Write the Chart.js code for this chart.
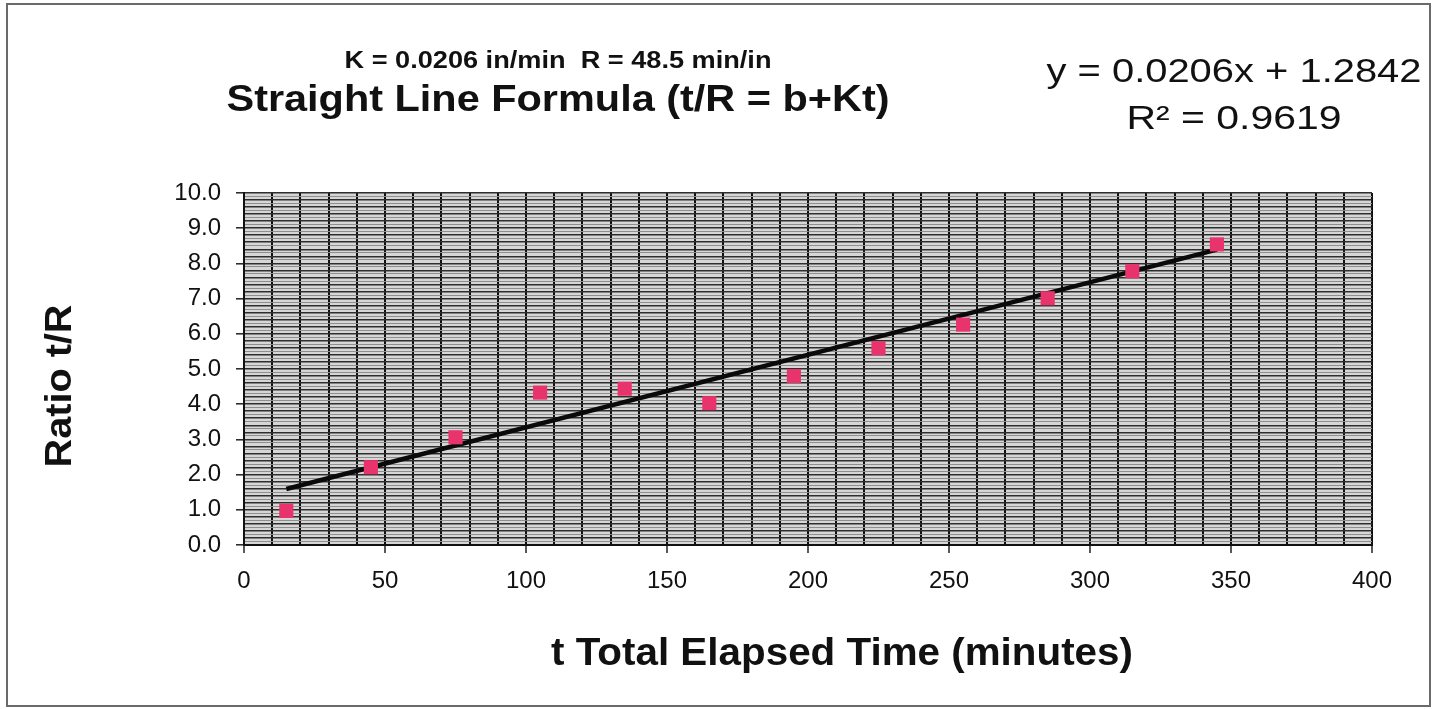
<!DOCTYPE html>
<html>
<head>
<meta charset="utf-8">
<script src="https://cdn.jsdelivr.net/npm/chart.js@4/dist/chart.umd.min.js"></script>
<style>
    html, body { margin: 0; padding: 0; background: #fff; }
    #wrap { width: 1437px; height: 709px; }
</style>
</head>
<body>
<div id="wrap"><canvas id="ratioChart" width="1437" height="709"></canvas></div>
<script>
// t (minutes) and measured t/R ratio
const elapsedTime = [15, 45, 75, 105, 135, 165, 195, 225, 255, 285, 315, 345];
const ratioTR = [0.97, 2.21, 3.06, 4.33, 4.44, 4.03, 4.80, 5.59, 6.26, 7.01, 7.78, 8.54];

// linear trendline end points (y = 0.0206x + 1.2842)
const trendTime = [15, 345];
const trendRatio = [1.59, 8.39];

const titleLines = ['K = 0.0206 in/min  R = 48.5 min/in', 'Straight Line Formula (t/R = b+Kt)'];
const equationLines = ['y = 0.0206x + 1.2842', 'R\u00B2 = 0.9619'];
const xTitle = 't Total Elapsed Time (minutes)';
const yTitle = 'Ratio t/R';

const FONT = "'Liberation Sans', Arial, sans-serif";

function isWhole(v, step) {
    const r = v / step;
    return Math.abs(r - Math.round(r)) < 1e-6;
}

// draw text centred at (cx, cy), stretched/squeezed to given width
function fitText(ctx, text, cx, cy, font, width, angle) {
    ctx.save();
    ctx.font = font;
    const w = ctx.measureText(text).width;
    ctx.translate(cx, cy);
    if (angle) ctx.rotate(angle);
    ctx.scale(width / w, 1);
    ctx.textAlign = 'center';
    ctx.textBaseline = 'middle';
    ctx.fillStyle = '#111';
    ctx.fillText(text, 0, 0);
    ctx.restore();
}

const decorPlugin = {
    id: 'decor',
    beforeDraw(chart) {
        const ctx = chart.ctx;
        const a = chart.chartArea;
        ctx.save();
        ctx.fillStyle = '#fff';
        ctx.fillRect(0, 0, chart.width, chart.height);
        ctx.strokeStyle = '#6a6a6a';
        ctx.lineWidth = 2;
        ctx.strokeRect(7, 4, 1423, 702);
        ctx.fillStyle = '#d6d6d6';
        ctx.fillRect(a.left, a.top, a.right - a.left, a.bottom - a.top);
        ctx.restore();
    },
    afterDraw(chart) {
        const ctx = chart.ctx;
        fitText(ctx, titleLines[0], 558, 62, 'bold 23px ' + FONT, 427);
        fitText(ctx, titleLines[1], 558, 101, 'bold 37px ' + FONT, 663);
        fitText(ctx, equationLines[0], 1234, 73, '33px ' + FONT, 375);
        fitText(ctx, equationLines[1], 1234, 120, '33px ' + FONT, 215);
        fitText(ctx, yTitle, 61, 386, 'bold 36px ' + FONT, 163, -Math.PI / 2);
        fitText(ctx, xTitle, 842, 655, 'bold 38px ' + FONT, 582);
    }
};

new Chart(document.getElementById('ratioChart'), {
    type: 'scatter',
    data: {
        datasets: [
            {
                label: 'Linear trend',
                type: 'line',
                data: trendTime.map((t, i) => ({ x: t, y: trendRatio[i] })),
                borderColor: '#0a0a0a',
                borderWidth: 4.5,
                pointRadius: 0,
                fill: false,
                order: 1
            },
            {
                label: 't/R',
                data: elapsedTime.map((t, i) => ({ x: t, y: ratioTR[i] })),
                pointStyle: 'rect',
                pointRadius: 10,
                pointBackgroundColor: '#e8336c',
                pointBorderColor: '#e8336c',
                pointBorderWidth: 0,
                order: 0
            }
        ]
    },
    options: {
        responsive: false,
        animation: false,
        events: [],
        layout: { padding: { left: 0, top: 193, right: 65, bottom: 0 } },
        plugins: { legend: { display: false }, tooltip: { enabled: false } },
        scales: {
            x: {
                type: 'linear',
                min: 0,
                max: 400,
                afterFit(scale) { scale.height = 164; },
                ticks: {
                    stepSize: 10,
                    autoSkip: false,
                    maxRotation: 0,
                    padding: 14,
                    color: '#111',
                    font: { family: FONT, size: 24 },
                    callback: v => isWhole(v, 50) ? String(v) : ''
                },
                grid: {
                    color: '#0e0e0e',
                    lineWidth: 2,
                    tickLength: 8,
                    tickColor: c => isWhole(c.tick.value, 50) ? '#222' : 'rgba(0,0,0,0)',
                    tickWidth: 1.5
                },
                border: { color: '#111', width: 2 }
            },
            y: {
                type: 'linear',
                min: 0,
                max: 10,
                afterFit(scale) { scale.width = 244; },
                ticks: {
                    stepSize: 0.1,
                    maxTicksLimit: 1000,
                    autoSkip: false,
                    padding: 15,
                    color: '#111',
                    font: { family: FONT, size: 24 },
                    callback: v => isWhole(v, 1) ? Number(v).toFixed(1) : ''
                },
                grid: {
                    color: c => isWhole(c.tick.value, 0.2) ? '#2e2e2e' : '#8e8e8e',
                    lineWidth: c => isWhole(c.tick.value, 0.2) ? 1.6 : 1,
                    tickLength: 8,
                    tickColor: c => isWhole(c.tick.value, 1) ? '#222' : 'rgba(0,0,0,0)',
                    tickWidth: 1.5
                },
                border: { color: '#111', width: 2 }
            }
        }
    },
    plugins: [decorPlugin]
});
</script>
</body>
</html>
